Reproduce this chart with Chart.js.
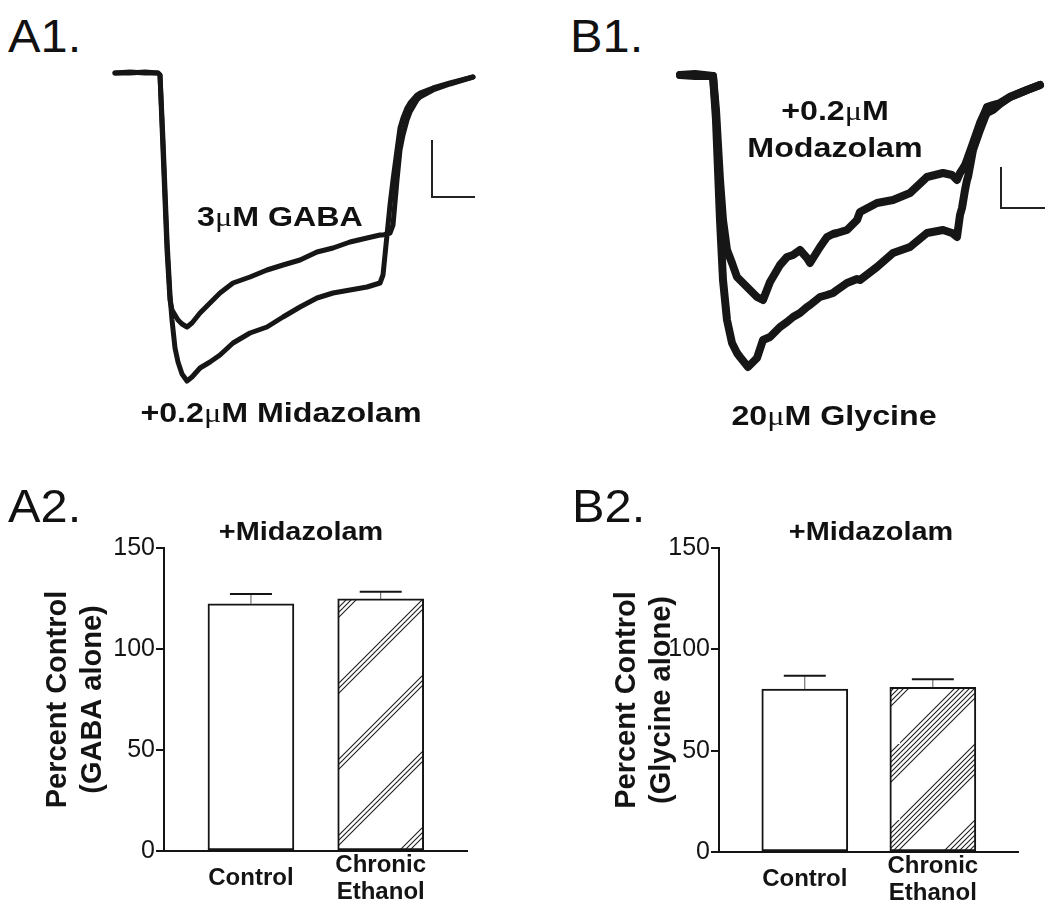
<!DOCTYPE html>
<html><head><meta charset="utf-8">
<script src="https://cdn.jsdelivr.net/npm/chart.js@4.4.1/dist/chart.umd.min.js"></script>
<style>
html,body{margin:0;padding:0;background:#fff;width:1050px;height:916px;overflow:hidden;}
body{position:relative;font-family:'Liberation Sans',Arial,sans-serif;color:#111;}
.box{position:absolute;}
.lbl{position:absolute;white-space:nowrap;line-height:1;}
.panel{font-size:46px;font-weight:normal;transform-origin:0 0;transform:scaleX(1.06);}
.ann{font-size:28px;font-weight:bold;transform:translateX(-50%) scaleX(1.15);}
.ttl{font-size:26px;font-weight:bold;transform:translateX(-50%) scaleX(1.11);}
.mu{font-family:'Liberation Serif','DejaVu Serif',serif;font-weight:normal;}
</style></head>
<body>
<div class="box" style="left:100px;top:50px;width:390px;height:360px"><canvas id="a1"></canvas></div>
<div class="box" style="left:660px;top:50px;width:390px;height:360px"><canvas id="b1"></canvas></div>
<div class="box" style="left:0px;top:440px;width:500px;height:476px"><canvas id="a2"></canvas></div>
<div class="box" style="left:520px;top:440px;width:530px;height:476px"><canvas id="b2"></canvas></div>

<div class="lbl panel" style="left:8px;top:13px">A1.</div>
<div class="lbl panel" style="left:570px;top:13px">B1.</div>
<div class="lbl panel" style="left:8px;top:483px">A2.</div>
<div class="lbl panel" style="left:572px;top:483px">B2.</div>

<div class="lbl ann" style="left:280px;top:203px">3<span class="mu">μ</span>M GABA</div>
<div class="lbl ann" style="left:281px;top:399px">+0.2<span class="mu">μ</span>M Midazolam</div>
<div class="lbl ann" style="left:835px;top:97px">+0.2<span class="mu">μ</span>M</div>
<div class="lbl ann" style="left:835px;top:134px">Modazolam</div>
<div class="lbl ann" style="left:834px;top:402px">20<span class="mu">μ</span>M Glycine</div>

<div class="lbl ttl" style="left:301px;top:518px">+Midazolam</div>
<div class="lbl ttl" style="left:871px;top:518px">+Midazolam</div>

<script>
// ---------- Panel A1: GABA-evoked current traces (time in s, current in x100 pA) ----------
const a1Time = [0,1.5,3.0,4.3,4.5,4.8,5.2,5.5,5.7,6.0,6.3,6.7,7.2,7.7,8.5,9.5,10.5,11.8,13.5,15.2,16.8,18.5,20.2,21.8,23.5,25.2,26.5,26.8,27.1,27.5,27.8,28.2,28.5,28.8,29.2,29.5,30.2,30.5,31.8,33.5,35.8];
const a1Gaba = [0,0.1,0,0,-0.2,-7.7,-17.7,-22.7,-23.7,-24.2,-24.7,-25.1,-25.4,-25.0,-24.0,-23.0,-22.0,-21.0,-20.4,-19.7,-19.2,-18.7,-17.9,-17.5,-16.9,-16.5,-16.2,-16.2,-16.1,-16.0,-15.2,-10.7,-7.7,-6.2,-4.7,-3.9,-2.7,-2.4,-1.7,-1.1,-0.4];
const a1GabaMidazolam = [0,0,0.1,0,-0.2,-6.7,-16.7,-22.2,-24.7,-27.5,-28.9,-30.1,-30.8,-30.4,-29.5,-28.9,-28.2,-27.0,-26.0,-25.4,-24.4,-23.4,-22.5,-22.0,-21.7,-21.4,-21.0,-20.2,-17.2,-13.2,-10.7,-7.7,-5.5,-4.5,-3.5,-3.0,-2.2,-2.0,-1.5,-1.0,-0.4];
const a1ScaleBarX = [31.7,31.7,36.0];
const a1ScaleBarY = [-6.7,-12.4,-12.4];

// ---------- Panel B1: glycine-evoked current traces ----------
const b1Time = [0,1.5,3.3,3.6,4.0,4.3,4.7,5.2,5.7,6.0,6.8,7.7,8.3,9.0,10.0,10.7,11.3,12.0,12.7,13.0,14.0,14.7,15.3,15.7,16.7,17.7,18.0,19.7,21.3,23.0,24.7,26.3,27.2,27.7,28.0,28.2,28.5,28.7,28.8,29.3,30.0,30.5,30.7,31.3,32.0,33.0,34.7,36.0];
const b1GlyMidazolam = [0,-0.1,-0.1,-3.5,-10.5,-14.5,-17.5,-18.8,-20.2,-20.5,-21.3,-22.2,-22.5,-20.7,-19.0,-18.2,-18.0,-17.5,-18.3,-18.8,-17.2,-16.2,-15.9,-15.8,-15.5,-14.5,-13.7,-12.8,-12.5,-11.8,-10.2,-9.8,-10.0,-10.5,-9.8,-9.5,-9.0,-8.5,-8.2,-6.8,-4.8,-3.7,-3.2,-3.0,-2.8,-2.2,-1.5,-1.0];
const b1Glycine = [0,0.1,-0.1,-4.5,-14.5,-20.5,-24.5,-26.8,-27.8,-28.2,-29.2,-28.3,-26.5,-26.2,-25.2,-24.7,-24.2,-23.8,-23.2,-23.0,-22.2,-22.0,-21.8,-21.5,-20.8,-20.4,-20.5,-19.2,-17.8,-17.2,-15.8,-15.5,-15.8,-16.2,-14.0,-13.3,-11.5,-10.5,-10.2,-7.5,-5.5,-4.2,-3.8,-3.5,-2.9,-2.2,-1.5,-1.0];
const b1ScaleBarX = [32.1,32.1,36.5];
const b1ScaleBarY = [-9.2,-13.3,-13.3];

// ---------- Bar panels ----------
const barCategories = ['Control', ['Chronic', 'Ethanol']];
const yTicks = [0, 50, 100, 150];
const a2Means = [122.4, 124.8];
const a2Errs = [4.8, 3.6];
const b2Means = [80.4, 81.3];
const b2Errs = [6.6, 4.0];

const FONT = "'Liberation Sans', Arial, sans-serif";
const INK = '#141414';

function traceChart(id, time, series, barX, barY, xr, yr, lw) {
  const ds = series.map(s => ({
    data: time.map((t, i) => ({x: t, y: s[i]})),
    showLine: true, borderColor: '#161616', borderWidth: lw, pointRadius: 0,
    tension: 0, borderJoinStyle: 'round', borderCapStyle: 'round'
  }));
  ds.push({
    data: barX.map((t, i) => ({x: t, y: barY[i]})),
    showLine: true, borderColor: '#222', borderWidth: 2, pointRadius: 0, tension: 0
  });
  new Chart(document.getElementById(id), {
    type: 'scatter',
    data: {datasets: ds},
    options: {
      responsive: true, maintainAspectRatio: false, animation: false, events: [],
      layout: {padding: 0},
      plugins: {legend: {display: false}, tooltip: {enabled: false}},
      scales: {
        x: {type: 'linear', display: false, min: xr[0], max: xr[1]},
        y: {type: 'linear', display: false, min: yr[0], max: yr[1]}
      }
    }
  });
}

traceChart('a1', a1Time, [a1Gaba, a1GabaMidazolam], a1ScaleBarX, a1ScaleBarY, [-1.5, 37.5], [-33.7, 2.3], 5);
traceChart('b1', b1Time, [b1GlyMidazolam, b1Glycine], b1ScaleBarX, b1ScaleBarY, [-2, 37], [-33.5, 2.5], 8);

function makeHatch(offsets) {
  const P = 76;
  const c = document.createElement('canvas');
  c.width = P; c.height = P;
  const g = c.getContext('2d');
  g.fillStyle = '#fff'; g.fillRect(0, 0, P, P);
  g.strokeStyle = '#1c1c1c'; g.lineWidth = 1.1;
  offsets.forEach(k => {
    [k - P, k, k + P].forEach(s => {
      g.beginPath();
      g.moveTo(-10, s + 10);
      g.lineTo(P + 10, s - P - 10);
      g.stroke();
    });
  });
  return g.createPattern(c, 'repeat');
}

function errPlugin(means, errs) {
  return {
    id: 'errbars',
    afterDatasetsDraw(chart) {
      const {ctx, scales: {x, y}} = chart;
      means.forEach((m, i) => {
        const px = x.getPixelForValue(i);
        const top = y.getPixelForValue(m);
        const cap = y.getPixelForValue(m + errs[i]);
        ctx.save();
        ctx.strokeStyle = '#555'; ctx.lineWidth = 1;
        ctx.beginPath(); ctx.moveTo(px, top); ctx.lineTo(px, cap); ctx.stroke();
        ctx.strokeStyle = INK; ctx.lineWidth = 2;
        ctx.beginPath(); ctx.moveTo(px - 21, cap); ctx.lineTo(px + 21, cap); ctx.stroke();
        ctx.restore();
      });
    }
  };
}

function barChart(id, means, errs, yTitle, pad, yWidth, xHeight, hatch) {
  new Chart(document.getElementById(id), {
    type: 'bar',
    data: {
      datasets: [{
        data: means.map((v, i) => ({x: i, y: v})),
        backgroundColor: ['#ffffff', hatch],
        borderColor: INK, borderWidth: 2, borderSkipped: false,
        barThickness: 86
      }]
    },
    options: {
      responsive: true, maintainAspectRatio: false, animation: false, events: [],
      layout: {padding: pad},
      plugins: {legend: {display: false}, tooltip: {enabled: false}},
      scales: {
        x: {
          type: 'linear', min: -0.67, max: 1.665, offset: false,
          grid: {display: false, offset: false},
          border: {display: true, color: INK, width: 2},
          afterBuildTicks: s => { s.ticks = barCategories.map((c, i) => ({value: i})); },
          afterFit: s => { s.height = xHeight; },
          ticks: {
            autoSkip: false, maxRotation: 0, padding: 6, crossAlign: 'center', color: INK,
            font: {family: FONT, size: 24, weight: 'bold', lineHeight: 1.125},
            callback: v => barCategories[v]
          }
        },
        y: {
          type: 'linear', min: 0, max: 150,
          afterBuildTicks: s => { s.ticks = yTicks.map(v => ({value: v})); },
          afterFit: s => { s.width = yWidth; },
          grid: {display: true, drawOnChartArea: false, drawTicks: true, tickLength: 8, lineWidth: 2, color: INK},
          border: {display: true, color: INK, width: 2},
          ticks: {padding: 1, color: INK, font: {family: FONT, size: 25}},
          title: {
            display: true, text: yTitle, color: INK, padding: 0,
            font: {family: FONT, size: 29, weight: 'bold', lineHeight: 1.2}
          }
        }
      }
    },
    plugins: [errPlugin(means, errs)]
  });
}

barChart('a2', a2Means, a2Errs, ['Percent Control', '(GABA alone)'],
  {left: 40.6, top: 108, right: 33, bottom: 0}, 123.4, 65, makeHatch([50, 55, 60]));
barChart('b2', b2Means, b2Errs, ['Percent Control', '(Glycine alone)'],
  {left: 89.6, top: 108, right: 32, bottom: 0}, 109.4, 64, makeHatch([-1, 4, 9, 14, 19, 24, 29]));
</script>
</body></html>
